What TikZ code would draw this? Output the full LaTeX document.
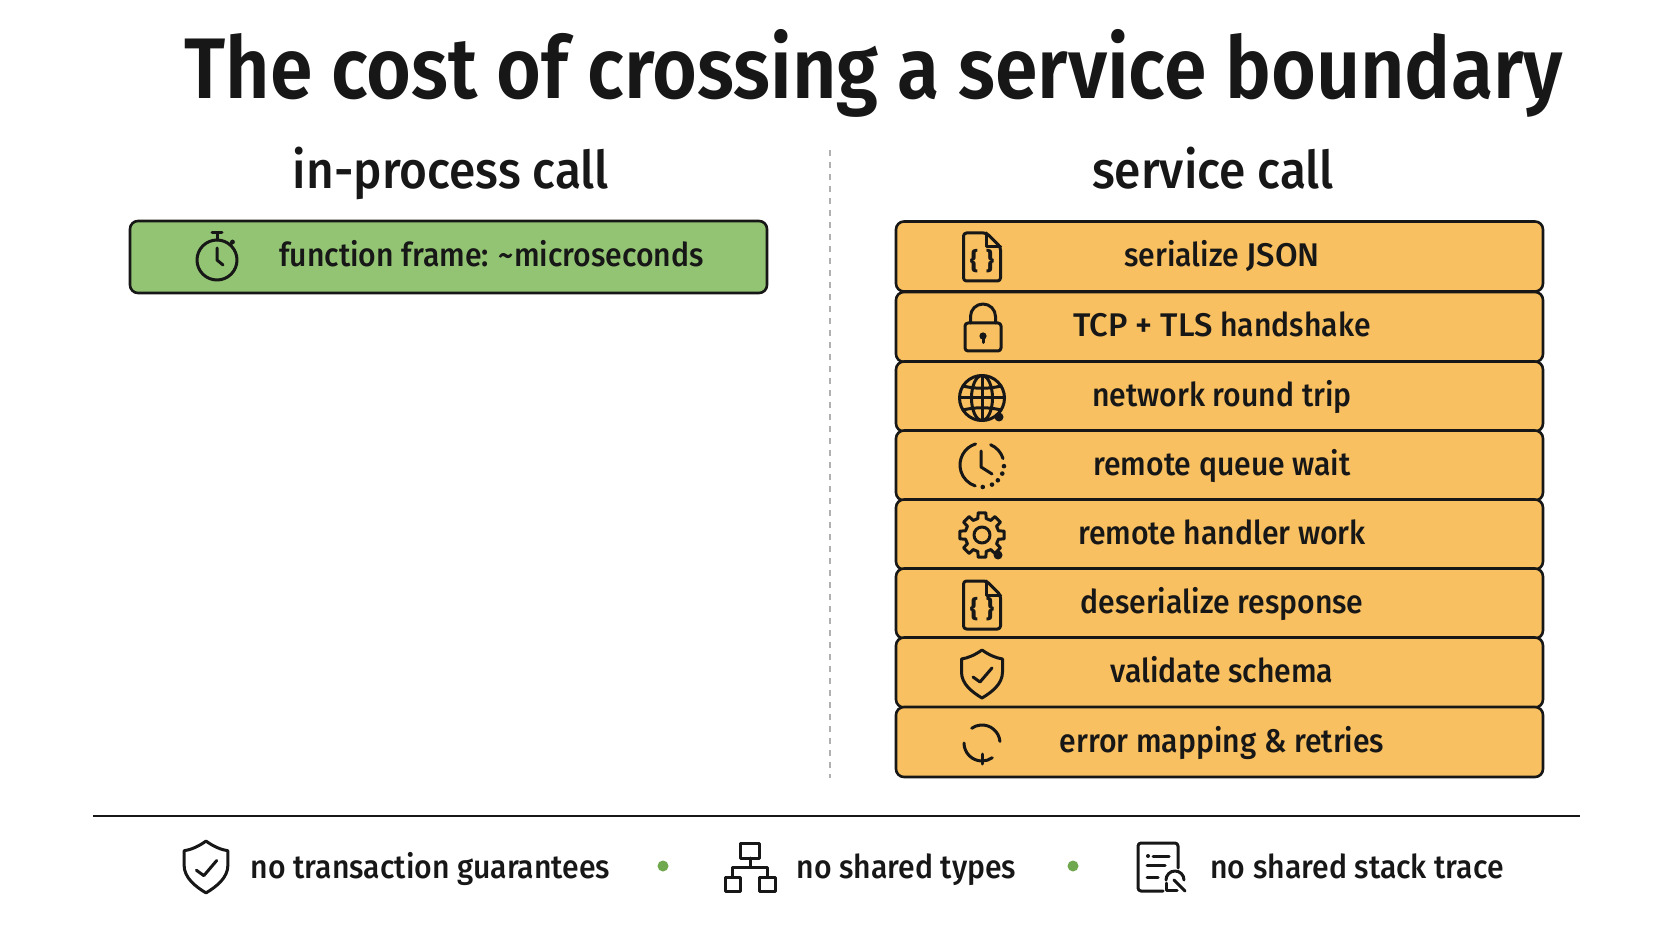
\documentclass[tikz,border=0pt]{standalone}
\usepackage{fontspec}
\setmainfont{Fira Sans}[UprightFont={* Medium},FakeStretch=0.92]
\newfontfamily\titlefont{Fira Sans}[UprightFont={* SemiBold},FakeStretch=0.895]
\newfontfamily\capfont{Fira Sans}[UprightFont={* Medium}]
\definecolor{inkdark}{HTML}{171717}
\definecolor{rowgreen}{HTML}{93C473}
\definecolor{roworange}{HTML}{F8C060}
\definecolor{dotgreen}{HTML}{6FA84F}
\definecolor{splitgray}{HTML}{B0B0B0}
\tikzset{
  iconline/.style={draw=inkdark, line width=1.5pt, line cap=round, line join=round},
  titletext/.style={inner sep=0pt, anchor=base, text=inkdark, font=\fontsize{43}{43}\titlefont},
  headtext/.style={inner sep=0pt, anchor=base, text=inkdark, font=\fontsize{26}{26}\selectfont},
  rowtext/.style={inner sep=0pt, text=inkdark, text height=14pt, text depth=3pt, font=\fontsize{16.4}{16.4}\selectfont},
  rowbox/.style={draw=inkdark, line width=1.3pt, rounded corners=4pt, inner sep=0pt, minimum width=323.5pt, minimum height=35pt, fill=roworange},
  dotmark/.style={circle, fill=dotgreen, inner sep=0pt, minimum size=5.5pt},
  pics/fileicon/.style={code={
    \draw[iconline, rounded corners=1.5pt] (4.5,24) -- (-18.5,24) -- (-18.5,-24) -- (18.5,-24) -- (18.5,10) -- cycle;
    \draw[iconline] (4.5,24) -- (4.5,10) -- (18.5,10);
    \node[inner sep=0pt, text=inkdark, font=\fontsize{12}{12}\capfont\bfseries] (-braces) at (0,-4) {\{\,\,\}};
  }},
  pics/lockicon/.style={code={
    \draw[iconline, rounded corners=1.5pt] (-18,4.5) rectangle (18,-23.5);
    \draw[iconline] (-12.5,4.5) -- (-12.5,11) arc (180:0:12.5) -- (12.5,4.5);
    \fill[inkdark] (0,-8.5) circle (3.6);
    \draw[iconline] (0,-8.5) -- (0,-15);
  }},
  pics/globeicon/.style={code={
    \draw[iconline] (0,0) circle (22.5);
    \draw[iconline] (0,0) ellipse (10.5 and 22.5);
    \draw[iconline] (0,22.5) -- (0,-22.5);
    \draw[iconline] (-22.5,0) -- (22.5,0);
    \draw[iconline] (-19,12) .. controls (-7,9) and (7,9) .. (19,12);
    \draw[iconline] (-19,-12) .. controls (-7,-9) and (7,-9) .. (19,-12);
    \fill[inkdark] (17,-19) circle (4.5);
  }},
  pics/clockicon/.style={code={
    \draw[iconline] (107:22) arc (107:252:22);
    \draw[iconline] (67:22) arc (67:17:22);
    \foreach \a in {-3,-23,-44,-63,-88} {
      \fill[inkdark] (\a:22) circle (2.3);
    }
    \draw[iconline] (-1,14) -- (-1,-2) -- (10,-9);
  }},
  pics/gearicon/.style={code={
    \draw[iconline] (-14:17) \foreach \a in {0,45,...,315} { -- (\a-10:22.5) -- (\a+10:22.5) -- (\a+14:17) -- (\a+31:17) } -- cycle;
    \draw[iconline] (0,0) circle (8);
    \fill[inkdark] (16,-20) circle (4.5);
  }},
  pics/shieldicon/.style={code={
    \draw[iconline] (0,24) .. controls (-7,19) and (-14,16) .. (-20.5,15) -- (-20.5,2)
      .. controls (-20.5,-10) and (-10,-18) .. (0,-24)
      .. controls (10,-18) and (20.5,-10) .. (20.5,2) -- (20.5,15)
      .. controls (14,16) and (7,19) .. (0,24) -- cycle;
    \draw[iconline] (-9,-3) -- (-2,-8) -- (10,6);
  }},
  pics/retryicon/.style={code={
    \draw[iconline] (5:18) arc (5:125:18);
    \draw[iconline] (180:18) arc (180:305:18);
    \draw[iconline] (0.5,-11) -- (0.5,-21);
  }},
  pics/watchicon/.style={code={
    \draw[iconline] (0,0) circle (20);
    \draw[iconline] (-5,27) -- (5,27);
    \draw[iconline] (0,27) -- (0,20);
    \draw[iconline] (13,15) -- (15.5,18);
    \fill[inkdark] (15.5,18) circle (2.4);
    \draw[iconline] (0,12) -- (0,0) -- (6,-5);
  }},
  pics/orgicon/.style={code={
    \draw[iconline] (-10,24) rectangle (9,9);
    \draw[iconline] (0,9) -- (0,0);
    \draw[iconline] (-18,-10) -- (-18,0) -- (17,0) -- (17,-10);
    \draw[iconline] (-25,-10) rectangle (-10,-24);
    \draw[iconline] (9,-10) rectangle (25,-24);
  }},
  pics/logicon/.style={code={
    \draw[iconline, rounded corners=1.5pt] (20,-1) -- (20,24) -- (-20,24) -- (-20,-24) -- (5,-24);
    \fill[inkdark] (-10,11) circle (2);
    \draw[iconline] (-5,11) -- (11,11);
    \draw[iconline] (-11,2) -- (7,2);
    \draw[iconline] (-11,-10) -- (0,-10);
    \draw[iconline] (8,-13) arc (180:0:9);
    \draw[iconline] (8,-16) -- (8,-23) -- (19,-23);
    \draw[iconline] (16,-13) -- (27,-24);
  }},
}
\begin{document}
\begin{tikzpicture}[x=0.5pt,y=0.5pt]
    \useasboundingbox (0,0) rectangle (1672,-941);

    \node[titletext] (title) at (874,-98.5) {The cost of crossing a service boundary};
    \node[headtext] (headleft) at (451,-189) {in-process call};
    \node[headtext] (headright) at (1213,-189) {service call};

    % left column
    \node[rowbox, fill=rowgreen, minimum width=318.5pt, minimum height=36pt] (frame) at (448.5,-257) {};
    \pic (watch) at (217,-260) {watchicon};
    \node[rowtext] (frametext) at (491.5,-255.5) {function frame: \textasciitilde microseconds};

    % right column
    \foreach \n/\y/\txt in {a/256.5/serialize {\capfont JSON}, b/327/{\capfont TCP + TLS} handshake, c/396.5/network round trip,
      d/465.5/remote queue wait, e/534.5/remote handler work, f/603.5/deserialize response,
      g/672.5/validate schema, h/742/error mapping \& retries} {
      \node[rowbox] (row\n) at (1219.5,-\y) {};
      \node[rowtext] (rowtext\n) at (1222,-\y+1) {\txt};
    }
    \pic (filea) at (982,-257) {fileicon};
    \pic (lock) at (983,-327.5) {lockicon};
    \pic (globe) at (982,-398) {globeicon};
    \pic (clock) at (982,-465) {clockicon};
    \pic (gear) at (982,-535) {gearicon};
    \pic (fileb) at (982,-605) {fileicon};
    \pic (shielda) at (982,-674) {shieldicon};
    \pic (retry) at (982,-743) {retryicon};

    % separators
    \coordinate (splittop) at (830,-150);
    \coordinate (splitbot) at (830,-778);
    \draw[splitgray, line width=0.9pt, dashed] (splittop) -- (splitbot);
    \coordinate (footl) at (93,-816);
    \coordinate (footr) at (1580,-816);
    \draw[inkdark, line width=1.1pt] (footl) -- (footr);

    % footer
    \pic[xscale=1.07,yscale=1.08] (shieldb) at (206,-867) {shieldicon};
    \node[rowtext] (foota) at (430.5,-867.5) {no transaction guarantees};
    \node[dotmark] (dota) at (663,-866) {};
    \pic (org) at (750,-867) {orgicon};
    \node[rowtext] (footb) at (906.5,-867.5) {no shared types};
    \node[dotmark] (dotb) at (1073,-866) {};
    \pic (log) at (1158,-867) {logicon};
    \node[rowtext] (footc) at (1357,-867.5) {no shared stack trace};
\end{tikzpicture}
\end{document}
